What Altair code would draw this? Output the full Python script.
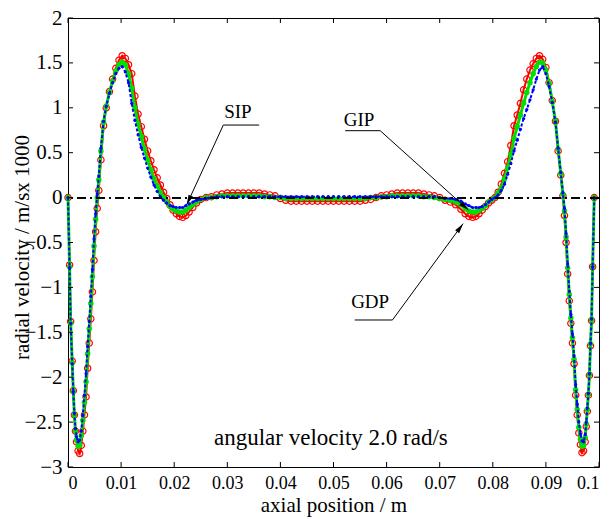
import math
import altair as alt
import pandas as pd

W, H = 531, 449

# ---------------- data ----------------
x_outer_L = [0.0, 0.0003, 0.0005, 0.0008, 0.0010, 0.0012, 0.0014, 0.0016, 0.0019, 0.0022, 0.0025,
             0.0028, 0.0031, 0.0034, 0.0037, 0.0040, 0.0043, 0.0046, 0.0049, 0.0052, 0.0055, 0.0058]
red_outer_L = [0.0, -0.75, -1.38, -1.82, -2.15, -2.42, -2.60, -2.72, -2.82, -2.85, -2.76,
               -2.60, -2.42, -2.22, -1.90, -1.62, -1.35, -1.05, -0.70, -0.38, -0.12, 0.08]
green_outer_L = [0.0, -0.77, -1.40, -1.84, -2.16, -2.42, -2.60, -2.70, -2.77, -2.76, -2.65,
                 -2.48, -2.28, -2.05, -1.74, -1.46, -1.18, -0.88, -0.54, -0.24, 0.0, 0.20]
blue_outer_L = [0.0, -0.78, -1.40, -1.85, -2.16, -2.40, -2.57, -2.66, -2.72, -2.70, -2.60,
                -2.42, -2.20, -1.96, -1.66, -1.38, -1.10, -0.80, -0.46, -0.18, 0.04, 0.24]

x_peak_L = [0.0062, 0.0067, 0.0072, 0.0078, 0.0084, 0.0090, 0.0096, 0.0102, 0.0108, 0.0114, 0.0120]
red_peak_L = [0.42, 0.80, 1.00, 1.18, 1.32, 1.44, 1.53, 1.58, 1.55, 1.48, 1.38]
green_peak_L = [0.52, 0.84, 1.02, 1.17, 1.30, 1.41, 1.48, 1.51, 1.48, 1.38, 1.22]
blue_peak_L = [0.55, 0.85, 1.02, 1.16, 1.28, 1.38, 1.44, 1.46, 1.40, 1.28, 1.05]

x_inner_L = [0.0126, 0.0132, 0.0138, 0.0144, 0.0150, 0.0156, 0.0162, 0.0168, 0.0174, 0.0180, 0.0186,
             0.0192, 0.0198, 0.0204, 0.0210, 0.0216, 0.0222, 0.0228, 0.0235, 0.0242, 0.0250, 0.0260]
red_inner_L = [1.13, 0.93, 0.79, 0.65, 0.52, 0.41, 0.31, 0.22, 0.14, 0.06, -0.01,
               -0.08, -0.14, -0.18, -0.21, -0.22, -0.20, -0.16, -0.11, -0.06, -0.02, 0.0]
green_inner_L = [1.00, 0.82, 0.68, 0.54, 0.42, 0.31, 0.21, 0.13, 0.06, 0.0, -0.05,
                 -0.10, -0.13, -0.15, -0.16, -0.16, -0.14, -0.11, -0.08, -0.05, -0.02, 0.0]
blue_inner_L = [0.86, 0.70, 0.56, 0.44, 0.33, 0.23, 0.14, 0.07, 0.01, -0.03, -0.06,
                -0.09, -0.10, -0.11, -0.11, -0.11, -0.09, -0.07, -0.05, -0.03, -0.02, -0.01]

x_flat = [0.027, 0.028, 0.029, 0.030, 0.031, 0.032, 0.033, 0.034, 0.035, 0.036,
          0.037, 0.038, 0.039, 0.040, 0.041, 0.042, 0.043, 0.044, 0.045, 0.046,
          0.047, 0.048, 0.049, 0.050, 0.051, 0.052, 0.053, 0.054, 0.055, 0.056,
          0.057, 0.058, 0.059, 0.060, 0.061, 0.062, 0.063, 0.064, 0.065, 0.066,
          0.067, 0.068, 0.069, 0.070, 0.071, 0.072]
red_flat = [0.01, 0.03, 0.04, 0.05, 0.05, 0.05, 0.05, 0.05, 0.05, 0.05,
            0.04, 0.03, 0.02, -0.01, -0.03, -0.04, -0.04, -0.04, -0.04, -0.04,
            -0.04, -0.04, -0.04, -0.04, -0.04, -0.04, -0.04, -0.04, -0.04, -0.03,
            -0.02, 0.0, 0.02, 0.03, 0.04, 0.05, 0.05, 0.05, 0.05, 0.05,
            0.04, 0.03, 0.02, 0.0, -0.03, -0.05]
green_flat = [0.0, 0.01, 0.02, 0.02, 0.02, 0.02, 0.02, 0.02, 0.02, 0.02,
              0.01, 0.01, 0.0, 0.0, -0.01, -0.01, -0.01, -0.01, -0.01, -0.01,
              -0.01, -0.01, -0.01, -0.01, -0.01, -0.01, -0.01, -0.01, -0.01, -0.01,
              0.0, 0.0, 0.01, 0.01, 0.02, 0.02, 0.02, 0.02, 0.02, 0.02,
              0.01, 0.01, 0.0, -0.01, -0.02, -0.03]
blue_flat = [0.0, 0.01, 0.01, 0.01, 0.01, 0.01, 0.01, 0.01, 0.01, 0.01,
             0.01, 0.01, 0.01, 0.01, 0.01, 0.01, 0.01, 0.01, 0.01, 0.01,
             0.01, 0.01, 0.01, 0.01, 0.01, 0.01, 0.01, 0.01, 0.01, 0.01,
             0.01, 0.01, 0.01, 0.01, 0.01, 0.01, 0.01, 0.01, 0.01, 0.01,
             0.01, 0.01, 0.01, 0.0, -0.01, -0.01]

x_inner_R = [0.0730, 0.0740, 0.0748, 0.0755, 0.0762, 0.0768, 0.0774, 0.0780, 0.0786, 0.0792, 0.0798,
             0.0804, 0.0810, 0.0816, 0.0822, 0.0828, 0.0834, 0.0840, 0.0846, 0.0852, 0.0858]
red_inner_R = [-0.08, -0.13, -0.18, -0.21, -0.22, -0.21, -0.18, -0.14, -0.10, -0.06, -0.03,
               0.0, 0.06, 0.15, 0.27, 0.40, 0.58, 0.80, 0.92, 1.05, 1.20]
green_inner_R = [-0.05, -0.08, -0.12, -0.15, -0.16, -0.16, -0.14, -0.12, -0.09, -0.05, -0.02,
                 0.0, 0.05, 0.11, 0.21, 0.33, 0.48, 0.66, 0.79, 0.92, 1.05]
blue_inner_R = [-0.02, -0.04, -0.07, -0.09, -0.11, -0.11, -0.11, -0.10, -0.08, -0.05, -0.02,
                0.0, 0.03, 0.08, 0.15, 0.26, 0.38, 0.52, 0.64, 0.76, 0.88]

x_peak_R = [0.0864, 0.0870, 0.0876, 0.0882, 0.0888, 0.0894, 0.0900, 0.0906, 0.0912, 0.0918, 0.0923, 0.0928]
red_peak_R = [1.32, 1.42, 1.49, 1.55, 1.58, 1.54, 1.45, 1.28, 1.08, 0.85, 0.52, 0.25]
green_peak_R = [1.17, 1.28, 1.38, 1.46, 1.51, 1.50, 1.42, 1.27, 1.07, 0.85, 0.54, 0.27]
blue_peak_R = [0.98, 1.09, 1.20, 1.32, 1.42, 1.46, 1.38, 1.24, 1.06, 0.84, 0.55, 0.28]

x_outer_R = [0.0932, 0.0935, 0.0938, 0.0941, 0.0944, 0.0947, 0.0950, 0.0953, 0.0956, 0.0959, 0.0962, 0.0965,
             0.0968, 0.0971, 0.0974, 0.0976, 0.0978, 0.0980, 0.0982, 0.0984, 0.0986, 0.0988, 0.0991]
red_outer_R = [0.02, -0.20, -0.50, -0.85, -1.15, -1.40, -1.62, -1.85, -2.20, -2.42, -2.62, -2.75,
               -2.84, -2.82, -2.72, -2.55, -2.38, -2.20, -1.98, -1.65, -1.37, -0.77, 0.0]
green_outer_R = [0.04, -0.15, -0.44, -0.78, -1.08, -1.34, -1.56, -1.80, -2.14, -2.36, -2.56, -2.69,
                 -2.77, -2.76, -2.67, -2.52, -2.36, -2.19, -1.97, -1.63, -1.36, -0.77, 0.0]
blue_outer_R = [0.05, -0.12, -0.40, -0.74, -1.04, -1.30, -1.52, -1.76, -2.08, -2.30, -2.50, -2.63,
                -2.71, -2.72, -2.64, -2.50, -2.34, -2.18, -1.96, -1.62, -1.35, -0.77, 0.0]

x_ticks = [0, 0.01, 0.02, 0.03, 0.04, 0.05, 0.06, 0.07, 0.08, 0.09, 0.1]
y_ticks = [-3, -2.5, -2, -1.5, -1, -0.5, 0, 0.5, 1, 1.5, 2]

# annotations (labels, text anchors, leader elbows and arrow tips)
ann_labels = ["SIP", "GIP", "GDP"]
ann_text_x = [0.0320, 0.0548, 0.0569]
ann_text_y = [0.95, 0.86, -1.16]
ann_bar_x1 = [0.0360, 0.0522, 0.0540]
ann_bar_x2 = [0.02925, 0.0588, 0.0611]
ann_bar_y = [0.808, 0.745, -1.363]
ann_tip_x = [0.02235, 0.0754, 0.0744]
ann_tip_y = [-0.08, -0.138, -0.29]
note_text = ["angular velocity 2.0 rad/s"]
note_x = [0.0495]
note_y = [-2.68]

# ---------------- build tables ----------------
xs_all = x_outer_L + x_peak_L + x_inner_L + x_flat + x_inner_R + x_peak_R + x_outer_R
red = red_outer_L + red_peak_L + red_inner_L + red_flat + red_inner_R + red_peak_R + red_outer_R
green = green_outer_L + green_peak_L + green_inner_L + green_flat + green_inner_R + green_peak_R + green_outer_R
blue = blue_outer_L + blue_peak_L + blue_inner_L + blue_flat + blue_inner_R + blue_peak_R + blue_outer_R

df_red = pd.DataFrame({"x": xs_all, "y": red})
df_green = pd.DataFrame({"x": xs_all, "y": green})
df_blue = pd.DataFrame({"x": xs_all, "y": blue})

PX_X = W / 0.1
PX_Y = H / 5.0
leaders = []
heads = []
for i in range(3):
    leaders.append({"x": ann_bar_x1[i], "y": ann_bar_y[i], "x2": ann_bar_x2[i], "y2": ann_bar_y[i]})
    leaders.append({"x": ann_bar_x2[i], "y": ann_bar_y[i], "x2": ann_tip_x[i], "y2": ann_tip_y[i]})
    dxp = (ann_tip_x[i] - ann_bar_x2[i]) * PX_X
    dyp = -(ann_tip_y[i] - ann_bar_y[i]) * PX_Y
    L = math.hypot(dxp, dyp)
    ux, uy = dxp / L, dyp / L
    heads.append({
        "x": ann_tip_x[i] - 5 * ux / PX_X,
        "y": ann_tip_y[i] + 5 * uy / PX_Y,
        "ang": math.degrees(math.atan2(ux, -uy)) % 360,
    })
df_lead = pd.DataFrame(leaders)
df_head = pd.DataFrame(heads)
df_text = pd.DataFrame({"label": ann_labels, "x": ann_text_x, "y": ann_text_y})
df_note = pd.DataFrame({"label": note_text, "x": note_x, "y": note_y})
df_xt = pd.DataFrame({"x": x_ticks})
df_yt = pd.DataFrame({"y": y_ticks})

FONT = "Liberation Serif"
xs = alt.Scale(domain=[0, 0.1], nice=False, zero=False)
ys = alt.Scale(domain=[-3, 2], nice=False, zero=False)

xaxis = alt.Axis(values=x_ticks, format="~g", title="axial position / m", ticks=False, domain=False,
                 grid=False, labelPadding=7, titleX=W / 2, titleY=44, titleBaseline="alphabetic",
                 titleAlign="center", labelFont=FONT, titleFont=FONT, labelFontSize=18,
                 titleFontSize=21, labelColor="black", titleColor="black", titleFontWeight="normal")
yaxis = alt.Axis(values=y_ticks, format="~g", title="radial velocity / m/sx 1000", ticks=False,
                 domain=False, grid=False, labelPadding=6, titleX=-40, titleY=229, titleAngle=270,
                 titleBaseline="alphabetic", titleAlign="center", labelFont=FONT, titleFont=FONT,
                 labelFontSize=21, titleFontSize=21, labelColor="black", titleColor="black",
                 titleFontWeight="normal")

X = alt.X("x:Q", scale=xs, axis=xaxis)
Y = alt.Y("y:Q", scale=ys, axis=yaxis)

red_line = alt.Chart(df_red).mark_line(color="#ff0000", strokeWidth=2).encode(x=X, y=Y)
red_pts = alt.Chart(df_red).mark_point(shape="circle", filled=False, color="#ff0000", size=40,
                                       strokeWidth=1.2, opacity=1).encode(x=X, y=Y)
green_line = alt.Chart(df_green).mark_line(color="#00e000", strokeWidth=3).encode(x=X, y=Y)
green_pts = alt.Chart(df_green).mark_point(shape="circle", filled=True, color="#00e000", size=30,
                                           opacity=1).encode(x=X, y=Y)
blue_line = alt.Chart(df_blue).mark_line(color="#0000ff", strokeWidth=2, strokeDash=[3, 2]).encode(x=X, y=Y)
blue_pts = alt.Chart(df_blue).mark_point(shape="circle", filled=True, color="#0000ff", size=10,
                                         opacity=1).encode(x=X, y=Y)

zero_line = alt.Chart(df_yt).mark_rule(color="black", strokeWidth=1.2, strokeDash=[9, 4, 2, 4]).encode(
    y=alt.datum(0, scale=ys, axis=yaxis))

tick_b = alt.Chart(df_xt).mark_rule(color="black").encode(
    x=X, y=alt.value(H), y2=alt.value(H - 5))
tick_t = alt.Chart(df_xt).mark_rule(color="black").encode(
    x=X, y=alt.value(0), y2=alt.value(5))
tick_l = alt.Chart(df_yt).mark_rule(color="black").encode(
    y=Y, x=alt.value(0), x2=alt.value(5))
tick_r = alt.Chart(df_yt).mark_rule(color="black").encode(
    y=Y, x=alt.value(W - 5), x2=alt.value(W))

lead = alt.Chart(df_lead).mark_rule(color="black", strokeWidth=1).encode(x=X, y=Y, x2="x2:Q", y2="y2:Q")
head = alt.Chart(df_head).mark_point(shape="M0,-1L0.5,1L-0.5,1Z", filled=True, color="black",
                                     size=100, opacity=1).encode(
    x=X, y=Y, angle=alt.Angle("ang:Q", scale=None))
texts = alt.Chart(df_text).mark_text(font=FONT, fontSize=19, color="black", align="center",
                                     baseline="middle").encode(x=X, y=Y, text="label:N")
note = alt.Chart(df_note).mark_text(font=FONT, fontSize=23, color="black", align="center",
                                    baseline="middle").encode(x=X, y=Y, text="label:N")

chart = alt.layer(
    red_line, red_pts, green_line, green_pts, blue_line, blue_pts, zero_line,
    tick_b, tick_t, tick_l, tick_r, lead, head, texts, note
).properties(
    width=W, height=H,
    autosize=alt.AutoSizeParams(type="none"),
    padding={"left": 68, "top": 18, "right": 11, "bottom": 52},
).configure(
    background="white", font=FONT
).configure_view(
    stroke="black", strokeWidth=1
)

chart.save("out.html", embed_options={"renderer": "svg", "actions": False})
